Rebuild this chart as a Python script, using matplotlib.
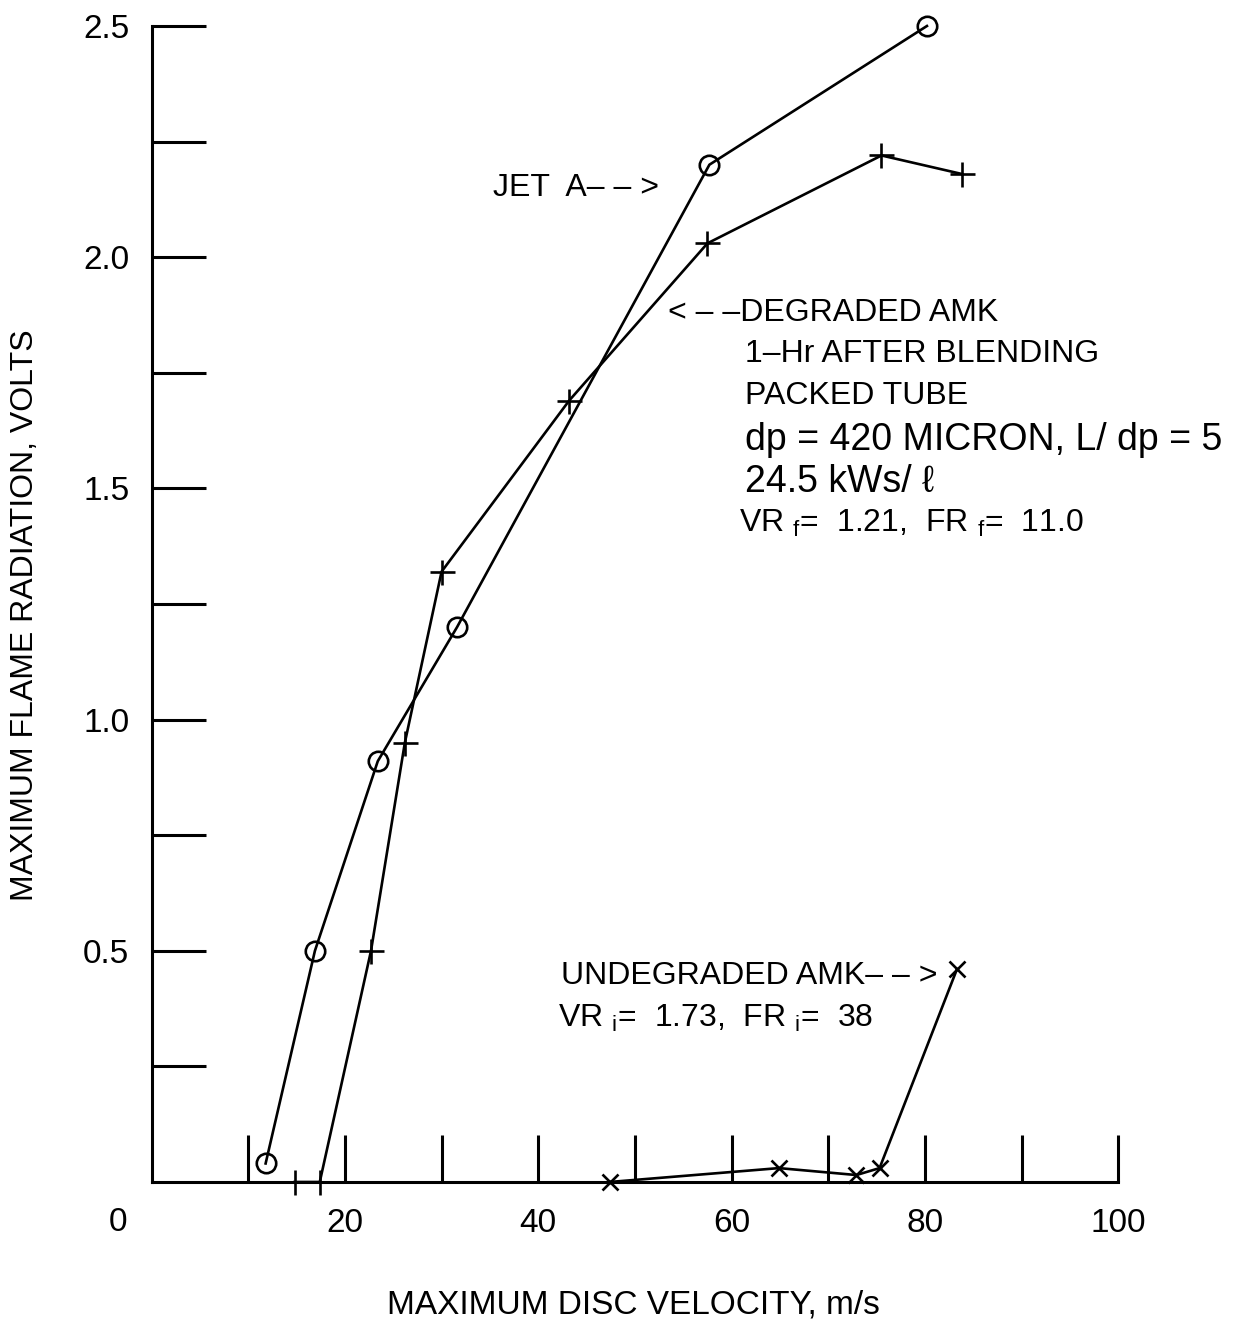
import numpy as np
import matplotlib
matplotlib.use("Agg")
import matplotlib.pyplot as plt

plt.rcParams['font.family'] = ['Liberation Sans', 'DejaVu Sans']
plt.rcParams['mathtext.fontset'] = 'custom'
plt.rcParams['mathtext.rm'] = 'Liberation Sans'

# Jet A (circles)
jet_x = [11.8, 16.9, 23.4, 31.6, 57.7, 80.2]
jet_y = [0.04, 0.50, 0.91, 1.20, 2.20, 2.50]

# Degraded AMK (plus)
deg_x = [14.8, 17.4, 22.7, 26.2, 30.0, 43.2, 57.5, 75.5, 83.8]
deg_y = [0.0, 0.0, 0.50, 0.95, 1.32, 1.69, 2.03, 2.22, 2.18]

# Undegraded AMK (x)
und_x = [47.4, 64.9, 72.9, 75.3, 83.3]
und_y = [0.0, 0.03, 0.015, 0.03, 0.46]

xticks = [10, 20, 30, 40, 50, 60, 70, 80, 90, 100]
xlabels = ["", "20", "", "40", "", "60", "", "80", "", "100"]
yticks = [0.25, 0.5, 0.75, 1.0, 1.25, 1.5, 1.75, 2.0, 2.25, 2.5]
ylabels = ["", "0.5", "", "1.0", "", "1.5", "", "2.0", "", "2.5"]

fig = plt.figure(figsize=(12.34, 13.33), dpi=100)
ax = fig.add_axes([0.1228, 0.1133, 0.9063 - 0.1228, 0.9805 - 0.1133])

lw = 1.9
ax.plot(jet_x, jet_y, color='black', lw=lw, marker='o', ms=14, mfc='none',
        mec='black', mew=1.9, clip_on=False, zorder=3)
ax.plot(deg_x, deg_y, color='black', lw=lw, marker='+', ms=18, mew=1.9,
        clip_on=False, zorder=3)
ax.plot(und_x, und_y, color='black', lw=lw, marker='x', ms=11, mew=1.9,
        clip_on=False, zorder=3)

ax.set_xlim(0, 100)
ax.set_ylim(0, 2.5)

ax.spines['right'].set_visible(False)
ax.spines['top'].set_visible(False)
ax.spines['left'].set_linewidth(2.2)
ax.spines['bottom'].set_linewidth(2.2)

ax.set_xticks(xticks)
ax.set_xticklabels(xlabels)
ax.set_yticks(yticks)
ax.set_yticklabels(ylabels)
ax.tick_params(axis='x', direction='in', length=34, width=2.2, labelsize=24, pad=19)
ax.tick_params(axis='y', direction='in', length=39, width=2.2, labelsize=24, pad=16)
ax.text(-3.5, -0.087, "0", fontsize=24, ha='center', va='center')

ax.set_xlabel("MAXIMUM DISC VELOCITY, m/s", fontsize=24)
ax.set_ylabel("MAXIMUM FLAME RADIATION, VOLTS", fontsize=23)
ax.xaxis.set_label_coords(0.498, -0.106)
ax.xaxis.label.set_va('center')
ax.yaxis.set_label_coords(-0.131, 0.49)
ax.yaxis.label.set_va('center')

fs = 23
ax.text(35.3, 2.15, "JET  A\u2013 \u2013 >", fontsize=fs, ha='left', va='center')
ax.text(53.4, 1.88, "< \u2013 \u2013DEGRADED AMK", fontsize=fs, ha='left', va='center')
ax.text(61.4, 1.79, "1\u2013Hr AFTER BLENDING", fontsize=fs, ha='left', va='center')
ax.text(61.4, 1.70, "PACKED TUBE", fontsize=fs, ha='left', va='center')
ax.text(61.4, 1.605, "dp = 420 MICRON, L/ dp = 5", fontsize=27, ha='left', va='center')
ax.text(61.4, 1.514, "24.5 kWs/ \u2113", fontsize=27, ha='left', va='center',
        family=['Liberation Sans', 'DejaVu Sans'])
ax.text(60.8, 1.425, r"VR $_\mathrm{f}$=  1.21,  FR $_\mathrm{f}$=  11.0", fontsize=fs,
        ha='left', va='center')
ax.text(42.4, 0.445, "UNDEGRADED AMK\u2013 \u2013 >", fontsize=fs, ha='left', va='center')
ax.text(42.0, 0.355, r"VR $_\mathrm{i}$=  1.73,  FR $_\mathrm{i}$=  38", fontsize=fs,
        ha='left', va='center')

fig.savefig("out.png", dpi=100)
